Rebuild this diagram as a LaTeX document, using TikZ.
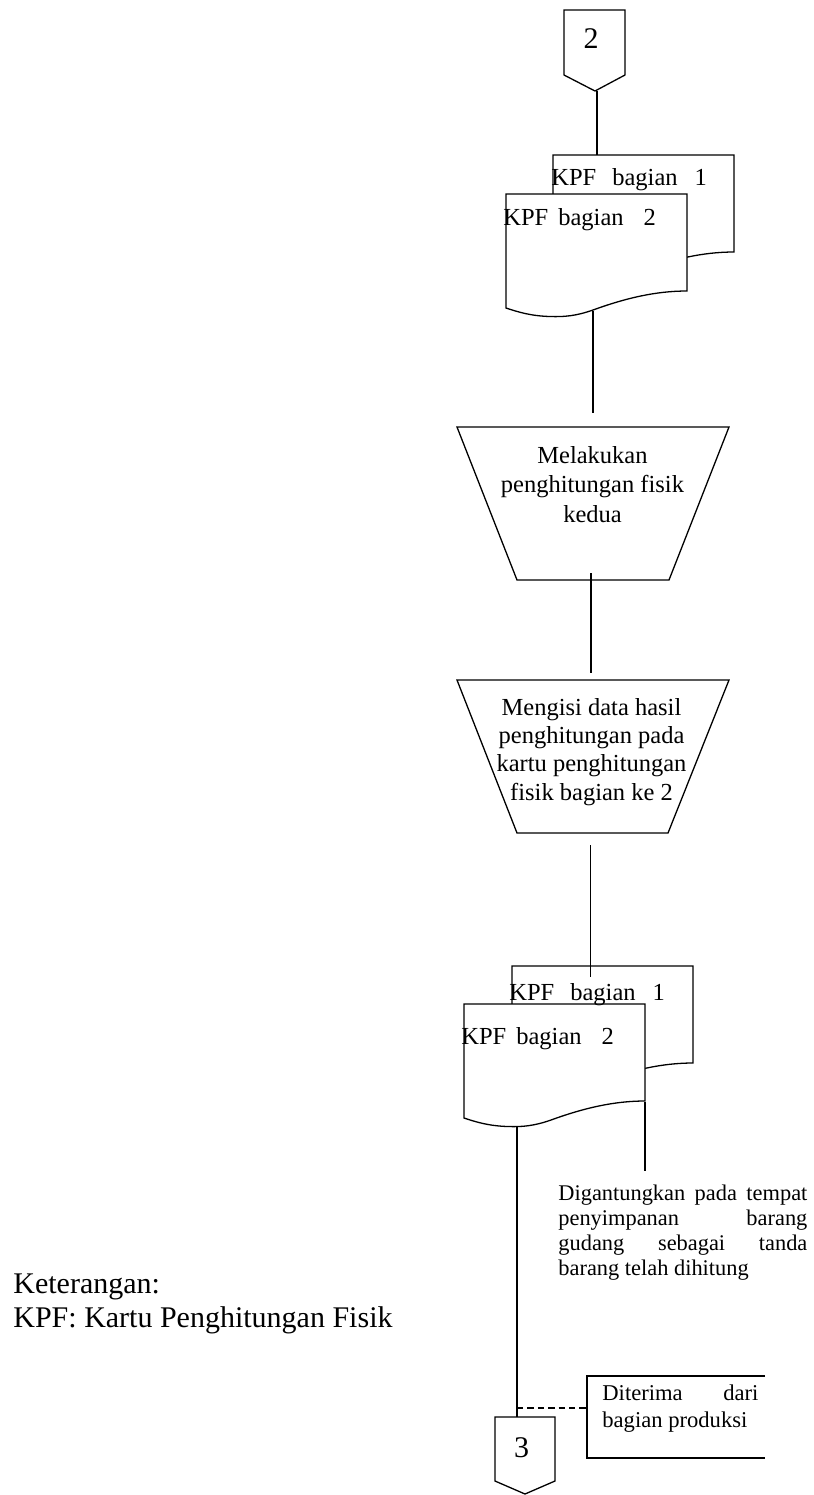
\documentclass[tikz,border=0pt]{standalone}
\usepackage{fontspec}
\setmainfont{Liberation Serif}
\newcommand\mainsz{\fontsize{12.25}{14.25}\selectfont}
\newcommand\notesz{\fontsize{11.2}{12.5}\selectfont}
\newcommand\boxsz{\fontsize{11.3}{13.5}\selectfont}
\newcommand\legendsz{\fontsize{15}{17}\selectfont}
\begin{document}
\begin{tikzpicture}[x=0.5pt,y=-0.5pt,
  outline/.style={draw,line width=0.65pt,fill=white},
  link/.style={draw,line width=0.65pt},
  txt/.style={inner sep=0pt,font=\mainsz},
  kpfdoc/.pic={
    \path[outline] (0,0) -- (181,0) -- (181,97)
      .. controls (150,97) and (120,104) .. (87,116)
      .. controls (70,122) and (58,123) .. (44,122.5)
      .. controls (25,122) and (12,118) .. (0,114) -- cycle;
  }]
\useasboundingbox (0,0) rectangle (814,1495);

% off-page connector 2
\path[outline] (564,10) -- (625,10) -- (625,75) -- (595,91) -- (564,75) -- cycle;
\node[txt,font=\legendsz,anchor=base] (lbl2) at (591,48) {2};
\coordinate (p2tip) at (597,91);

% first pair of cards
\pic at (553,155) {kpfdoc};
\pic at (506,194) {kpfdoc};
\coordinate (d1top) at (597,155);
\coordinate (d1out) at (593,311);
\node[txt,anchor=base west] (d1a) at (551,185) {KPF\hspace{8pt}bagian\hspace{8.5pt}1};
\node[txt,anchor=base west] (d1b) at (503,225) {KPF\hspace{5pt}bagian\hspace{10pt}2};

% manual operation 1 (multi-line nodes sit on the baseline of their last line)
\path[outline] (457,427) -- (729,427) -- (669,580) -- (517,580) -- cycle;
\node[txt,font=\fontsize{12.25}{14.75}\selectfont,align=center,anchor=base] (op1) at (592.5,522)
  {Melakukan\\penghitungan fisik\\kedua};
\coordinate (t1in) at (593,413);
\coordinate (t1out) at (591,573);

% manual operation 2
\path[outline] (457,680) -- (729,680) -- (668,833) -- (517,833) -- cycle;
\node[txt,font=\fontsize{12.25}{14.15}\selectfont,align=center,anchor=base] (op2) at (591.5,800)
  {Mengisi data hasil\\penghitungan pada\\kartu penghitungan\\fisik bagian ke 2};
\coordinate (t2in) at (591,673);
\coordinate (t2out) at (590.5,845);

% second pair of cards
\pic at (512,966) {kpfdoc};
\pic at (464,1004) {kpfdoc};
\coordinate (d2top) at (590.5,977);
\coordinate (d2out) at (517,1126);
\coordinate (d2side) at (645,1102);
\coordinate (d2hang) at (645,1171);
\node[txt,anchor=base west] (d2a) at (509,1000) {KPF\hspace{8pt}bagian\hspace{8.5pt}1};
\node[txt,anchor=base west] (d2b) at (461,1044) {KPF\hspace{5pt}bagian\hspace{10pt}2};

% note under the cards
\node[inner sep=0pt,font=\notesz,align=left,anchor=base west] (hang) at (558,1275)
  {\makebox[124.5pt][s]{Digantungkan pada tempat}\\
   \makebox[124.5pt][s]{penyimpanan barang}\\
   \makebox[124.5pt][s]{gudang sebagai tanda}\\
   barang telah dihitung};

% annotation box
\path[link] (765,1376) -- (587,1376) -- (587,1458) -- (765,1458);
\coordinate (annleft) at (587,1408);
\node[inner sep=0pt,font=\boxsz,align=left,anchor=base west] (ann) at (602,1427)
  {\makebox[78pt][s]{Diterima dari}\\bagian produksi};

% off-page connector 3
\path[outline] (495,1417) -- (555,1417) -- (555,1481) -- (525,1494) -- (495,1481) -- cycle;
\node[txt,font=\legendsz,anchor=base] (lbl3) at (521.5,1457) {3};
\coordinate (p3top) at (517,1417);
\coordinate (tap) at (517,1408);

% legend
\node[inner sep=0pt,font=\legendsz,align=left,anchor=base west] (legend) at (13,1327)
  {Keterangan:\\KPF: Kartu Penghitungan Fisik};

% connectors
\draw[link] (p2tip) -- (d1top);
\draw[link] (d1out) -- (t1in);
\draw[link] (t1out) -- (t2in);
\draw[link] (t2out) -- (d2top);
\draw[link] (d2out) -- (p3top);
\draw[link] (d2side) -- (d2hang);
\draw[link,dash pattern=on 3.2pt off 2pt] (tap) -- (annleft);
\end{tikzpicture}
\end{document}
